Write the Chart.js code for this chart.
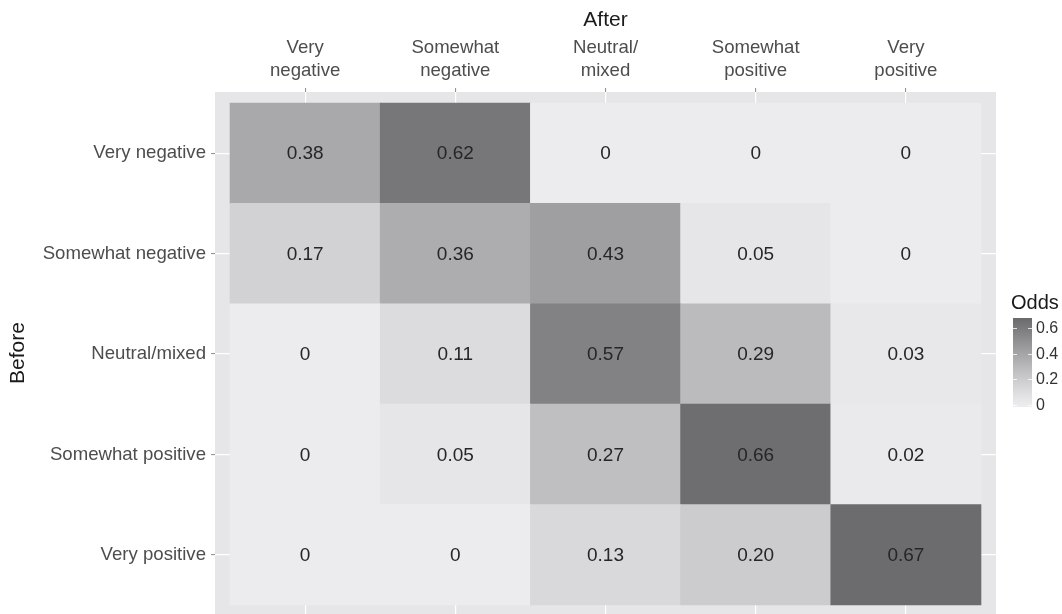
<!DOCTYPE html>
<html>
<head>
<meta charset="utf-8">
<script src="https://cdn.jsdelivr.net/npm/chart.js@4.4.1/dist/chart.umd.min.js"></script>
<style>
  html, body { margin: 0; padding: 0; background: #fff; }
  #wrap { width: 1062px; height: 614px; }
</style>
</head>
<body>
<div id="wrap"><canvas id="oddsChart"></canvas></div>
<script>
// categories
const afterLabels = [['Very', 'negative'], ['Somewhat', 'negative'], ['Neutral/', 'mixed'], ['Somewhat', 'positive'], ['Very', 'positive']];
const beforeLabels = ['Very negative', 'Somewhat negative', 'Neutral/mixed', 'Somewhat positive', 'Very positive'];

// odds, one row per "Before" category, columns = "After"
const rowVeryNegative     = [0.38, 0.62, 0,    0,    0];
const rowSomewhatNegative = [0.17, 0.36, 0.43, 0.05, 0];
const rowNeutralMixed     = [0,    0.11, 0.57, 0.29, 0.03];
const rowSomewhatPositive = [0,    0.05, 0.27, 0.66, 0.02];
const rowVeryPositive     = [0,    0,    0.13, 0.20, 0.67];
const rows = [rowVeryNegative, rowSomewhatNegative, rowNeutralMixed, rowSomewhatPositive, rowVeryPositive];

// legend
const legendTicks = [0, 0.2, 0.4, 0.6];
const oddsMax = 0.67;

// grey scale: light for 0, dark for max
function oddsColor(v) {
  const t = Math.pow(Math.max(0, Math.min(1, v / oddsMax)), 1.15);
  const g = Math.round(236 - 128 * t);
  return `rgb(${g},${g},${g + 3})`;
}
function fmt(v) {
  return v === 0 ? '0' : v.toFixed(2);
}

// build cells: each one floating bar spanning its row
const cells = [];
const cellColors = [];
rows.forEach((row, r) => {
  row.forEach((v, c) => {
    cells.push({ x: c, y: [r - 0.5, r + 0.5], v: v });
    cellColors.push(oddsColor(v));
  });
});

const FONT = '"Liberation Sans", Arial, Helvetica, sans-serif';

// panel background, ggplot-like
const panelBg = {
  id: 'panelBg',
  beforeDraw(chart) {
    const a = chart.chartArea, ctx = chart.ctx;
    ctx.save();
    ctx.fillStyle = '#e6e6e8';
    ctx.fillRect(a.left, a.top, a.right - a.left, a.bottom - a.top);
    ctx.restore();
  }
};

// numbers inside cells
const cellText = {
  id: 'cellText',
  afterDatasetsDraw(chart) {
    const ctx = chart.ctx;
    const meta = chart.getDatasetMeta(0);
    ctx.save();
    ctx.font = `19px ${FONT}`;
    ctx.fillStyle = '#262626';
    ctx.textAlign = 'center';
    ctx.textBaseline = 'middle';
    meta.data.forEach((bar, i) => {
      const p = bar.getCenterPoint();
      ctx.fillText(fmt(cells[i].v), p.x, p.y + 1);
    });
    ctx.restore();
  }
};

// colour bar legend "Odds"
const oddsLegend = {
  id: 'oddsLegend',
  afterDraw(chart) {
    const ctx = chart.ctx;
    const x0 = 1013, w = 19;
    const yZero = 405, perUnit = 128.5;
    const yTop = yZero - oddsMax * perUnit, yBot = yZero + 2;
    ctx.save();
    for (let y = Math.floor(yTop); y < yBot; y++) {
      const v = Math.max(0, (yZero - y) / perUnit);
      ctx.fillStyle = oddsColor(v);
      ctx.fillRect(x0, y, w, 1);
    }
    ctx.strokeStyle = 'rgba(255,255,255,0.8)';
    ctx.lineWidth = 1;
    ctx.font = `16px ${FONT}`;
    ctx.fillStyle = '#333';
    ctx.textAlign = 'left';
    ctx.textBaseline = 'middle';
    legendTicks.forEach(t => {
      const y = Math.round(yZero - t * perUnit) + 0.5;
      ctx.beginPath();
      ctx.moveTo(x0, y); ctx.lineTo(x0 + 4, y);
      ctx.moveTo(x0 + w - 4, y); ctx.lineTo(x0 + w, y);
      ctx.stroke();
      ctx.fillText(String(t), x0 + w + 4, y);
    });
    ctx.font = `20px ${FONT}`;
    ctx.fillStyle = '#1a1a1a';
    ctx.fillText('Odds', 1011, 303);
    ctx.restore();
  }
};

new Chart(document.getElementById('oddsChart'), {
  type: 'bar',
  data: {
    datasets: [{
      label: 'Odds',
      data: cells,
      backgroundColor: cellColors,
      borderWidth: 0,
      barPercentage: 1,
      categoryPercentage: 1
    }]
  },
  options: {
    responsive: true,
    maintainAspectRatio: false,
    animation: false,
    layout: { padding: { top: 0, left: 0, right: 66, bottom: 0 } },
    plugins: {
      legend: { display: false },
      tooltip: { enabled: false }
    },
    scales: {
      x: {
        type: 'linear',
        position: 'top',
        offset: false,
        min: -0.6,
        max: 4.6,
        afterBuildTicks: s => { s.ticks = afterLabels.map((_, i) => ({ value: i })); },
        afterFit: s => { s.height = 92; s.paddingLeft = 0; s.paddingRight = 0; },
        ticks: {
          callback: v => afterLabels[v],
          font: { family: FONT, size: 18.6, lineHeight: 1.26 },
          color: '#4d4d4d',
          padding: 5,
          maxRotation: 0,
          autoSkip: false
        },
        grid: { offset: false, color: '#ffffff', lineWidth: 1.2, tickColor: '#8a8a8a', tickLength: 4, tickWidth: 1 },
        border: { display: false },
        title: {
          display: true,
          text: 'After',
          font: { family: FONT, size: 21 },
          color: '#1a1a1a',
          padding: { top: 8, bottom: 0 }
        }
      },
      y: {
        type: 'linear',
        reverse: true,
        offset: false,
        min: -0.61,
        max: 4.59,
        afterBuildTicks: s => { s.ticks = beforeLabels.map((_, i) => ({ value: i })); },
        afterFit: s => { s.width = 215; s.paddingTop = 0; s.paddingBottom = 0; },
        ticks: {
          callback: v => beforeLabels[v],
          font: { family: FONT, size: 18.6 },
          color: '#4d4d4d',
          padding: 5,
          autoSkip: false
        },
        grid: { color: '#ffffff', lineWidth: 1.2, tickColor: '#8a8a8a', tickLength: 4, tickWidth: 1 },
        border: { display: false },
        title: {
          display: true,
          text: 'Before',
          font: { family: FONT, size: 21 },
          color: '#1a1a1a',
          padding: { top: 6, bottom: 0 }
        }
      }
    }
  },
  plugins: [panelBg, cellText, oddsLegend]
});
</script>
</body>
</html>
